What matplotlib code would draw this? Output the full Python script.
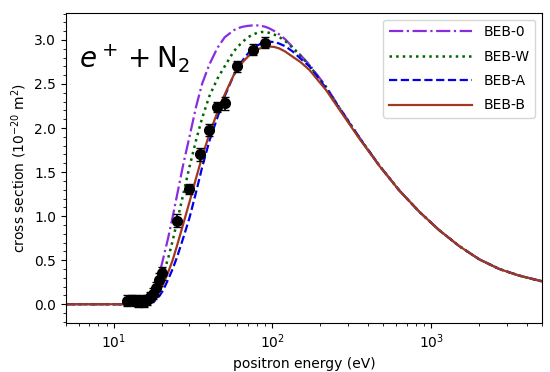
import matplotlib
matplotlib.use("Agg")
import matplotlib.pyplot as plt
from matplotlib.ticker import MultipleLocator

# ---- data ----
E = [5, 15.6, 16.5, 17.5, 18.5, 19.5, 20.5, 22, 23.5, 25, 27.5, 30, 33, 36, 40, 45, 50,
     57, 61, 65, 70, 75, 80, 85, 90, 96, 103, 110, 120, 134, 150, 171, 218, 264, 353,
     472, 631, 842, 1125, 1503, 2009, 2686, 3583, 5000]

beb_0 = [0, 0, 0.03, 0.10, 0.22, 0.36, 0.52, 0.75, 0.99, 1.23, 1.60, 1.90, 2.24, 2.50,
         2.72, 2.91, 3.03, 3.11, 3.135, 3.15, 3.16, 3.165, 3.165, 3.16, 3.15, 3.13, 3.10,
         3.065, 3.01, 2.92, 2.83, 2.72, 2.47, 2.235, 1.895, 1.575,
         1.29, 1.05, 0.84, 0.66, 0.51, 0.40, 0.325, 0.26]

beb_w = [0, 0, 0.02, 0.06, 0.14, 0.24, 0.34, 0.52, 0.72, 0.93, 1.26, 1.56, 1.86, 2.11,
         2.36, 2.56, 2.70, 2.87, 2.93, 2.98, 3.03, 3.06, 3.08, 3.09, 3.09, 3.08, 3.06,
         3.035, 2.99, 2.91, 2.82, 2.71, 2.46, 2.23, 1.89, 1.573,
         1.29, 1.05, 0.84, 0.66, 0.51, 0.40, 0.325, 0.26]

beb_a = [0, 0, 0.005, 0.02, 0.05, 0.10, 0.16, 0.28, 0.40, 0.53, 0.76, 0.98, 1.27, 1.55,
         1.85, 2.12, 2.36, 2.60, 2.69, 2.77, 2.845, 2.90, 2.935, 2.96, 2.975, 2.98, 2.975,
         2.96, 2.93, 2.87, 2.79, 2.70, 2.45, 2.225, 1.888, 1.572,
         1.29, 1.05, 0.84, 0.66, 0.51, 0.40, 0.325, 0.26]

beb_b = [0, 0, 0.01, 0.04, 0.09, 0.15, 0.23, 0.36, 0.50, 0.66, 0.92, 1.16, 1.43, 1.67,
         1.93, 2.18, 2.38, 2.60, 2.68, 2.75, 2.81, 2.86, 2.89, 2.91, 2.92, 2.925, 2.92,
         2.905, 2.87, 2.81, 2.75, 2.66, 2.43, 2.21, 1.88, 1.57,
         1.29, 1.05, 0.84, 0.66, 0.51, 0.40, 0.325, 0.26]

exp_E = [12.2, 13.0, 13.6, 14.2, 15.0, 15.6, 16.3, 17.0, 17.7, 18.5, 19.3, 20.2,
         25, 30, 35, 40, 45, 50, 60, 75, 90]
exp_s = [0.04, 0.05, 0.04, 0.03, 0.04, 0.03, 0.05, 0.08, 0.12, 0.18, 0.28, 0.35,
         0.95, 1.31, 1.70, 1.98, 2.24, 2.28, 2.70, 2.89, 2.97]
exp_err = [0.06, 0.06, 0.06, 0.06, 0.06, 0.06, 0.06, 0.06, 0.06, 0.07, 0.07, 0.07,
           0.07, 0.06, 0.07, 0.07, 0.06, 0.07, 0.06, 0.06, 0.06]

labels = ["BEB-0", "BEB-W", "BEB-A", "BEB-B"]

fig = plt.figure(figsize=(5.5, 3.72), dpi=100)
ax = fig.add_axes([0.12, 0.1325, 0.8655, 0.8335])

ax.plot(E, beb_0, linestyle="-.", color="#8a2be2", lw=1.6, label=labels[0])
ax.plot(E, beb_w, linestyle=":", color="#006400", lw=1.8, label=labels[1])
ax.plot(E, beb_a, linestyle="--", color="#0000ee", lw=1.6, label=labels[2])
ax.plot(E, beb_b, linestyle="-", color="#a0391e", lw=1.6, label=labels[3])

ax.errorbar(exp_E, exp_s, yerr=exp_err, fmt="o", color="black", ms=7,
            capsize=3, elinewidth=1.2, zorder=5)

ax.set_xscale("log")
ax.set_xlim(5, 5000)
ax.set_ylim(-0.21, 3.31)
ax.yaxis.set_major_locator(MultipleLocator(0.5))
ax.yaxis.set_minor_locator(MultipleLocator(0.1))

ax.set_xlabel("positron energy (eV)")
ax.set_ylabel(r"cross section (10$^{-20}$ m$^2$)")

ax.text(0.028, 0.85, r"$e^+ + \mathrm{N}_2$", transform=ax.transAxes,
        fontsize=20, va="center", ha="left")

ax.legend(loc="upper right", handlelength=6, labelspacing=0.75)

fig.savefig("out.png", dpi=100)
